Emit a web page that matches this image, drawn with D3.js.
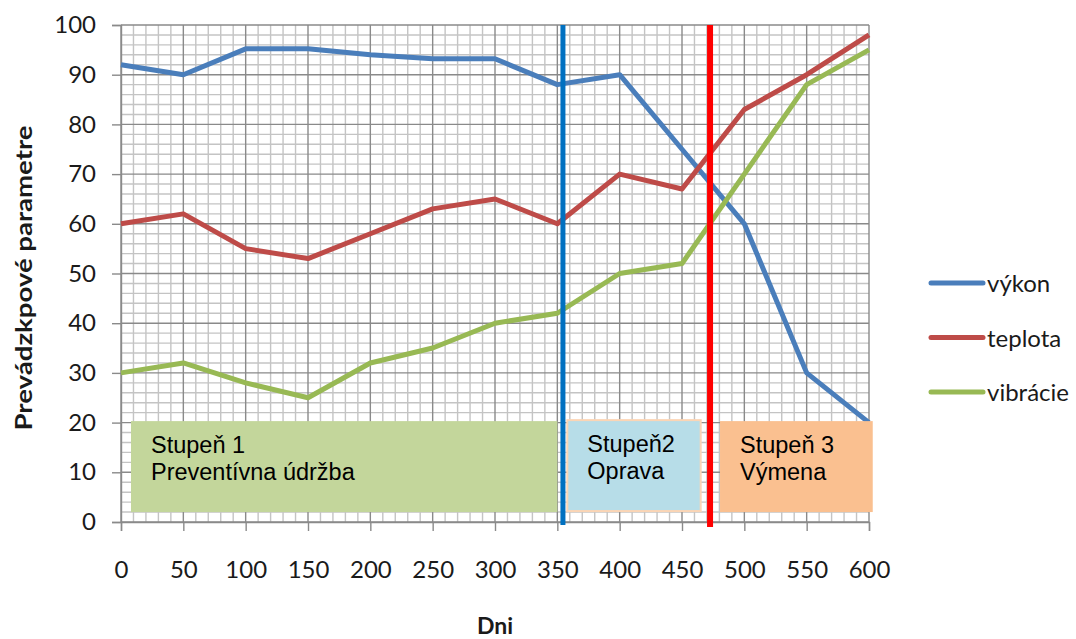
<!DOCTYPE html>
<html><head><meta charset="utf-8">
<script src="https://cdn.jsdelivr.net/npm/d3@7/dist/d3.min.js"></script>
<style>body{margin:0;background:#fff}svg{display:block}</style>
</head><body><svg id="c" width="1076" height="639"></svg>
<script>
const days = [0,50,100,150,200,250,300,350,400,450,500,550,600];
const vykon = [92,90,95.2,95.2,94,93.2,93.2,88,90,75,60,30,20];
const teplota = [60,62,55,53,58,63,65,60,70,67,83,90,98];
const vibracie = [30,32,28,25,32,35,40,42,50,52,70,88,95];
const seriesNames = ["výkon","teplota","vibrácie"];
const seriesColors = ["#4a7ebb","#be4b48","#98b954"];
const xTicks = [0,50,100,150,200,250,300,350,400,450,500,550,600];
const yTicks = [0,10,20,30,40,50,60,70,80,90,100];
const phaseLabels = [["Stupeň 1","Preventívna údržba"],["Stupeň2","Oprava"],["Stupeň 3","Výmena"]];
const phaseStart = [8,358,480.5];
const phaseEnd = [350,465,603];
const phaseLow = [2,2.2,2];
const phaseHigh = [20.3,20.5,20.3];
const phaseColors = ["#c3d69b","#b7dde8","#fac090"];
const markerDays = [354.5,472.5];
const markerColors = ["#0070c0","#ff0000"];

const svg = d3.select("#c");
const x = d3.scaleLinear().domain([0,600]).range([121,869]);
const y = d3.scaleLinear().domain([0,100]).range([522,25]);

const g = svg.append("g");
const minorX = d3.range(0,601,10), minorY = d3.range(0,101,2);
g.selectAll(".mx").data(minorX.filter(d=>d%50!==0)).join("line").attr("x1",d=>x(d)).attr("x2",d=>x(d)).attr("y1",y(0)).attr("y2",y(100)).attr("stroke","#c4c4c4").attr("stroke-width",1.4);
g.selectAll(".my").data(minorY.filter(d=>d%10!==0)).join("line").attr("y1",d=>y(d)).attr("y2",d=>y(d)).attr("x1",x(0)).attr("x2",x(600)).attr("stroke","#c4c4c4").attr("stroke-width",1.4);
g.selectAll(".Mx").data(minorX.filter(d=>d%50===0)).join("line").attr("x1",d=>x(d)).attr("x2",d=>x(d)).attr("y1",y(0)).attr("y2",y(100)).attr("stroke","#8a8a8a").attr("stroke-width",1.4);
g.selectAll(".My").data(minorY.filter(d=>d%10===0)).join("line").attr("y1",d=>y(d)).attr("y2",d=>y(d)).attr("x1",x(0)).attr("x2",x(600)).attr("stroke","#8a8a8a").attr("stroke-width",1.4);

const ya = d3.axisLeft(y).tickValues(yTicks).tickSize(9).tickPadding(16);
const yg = svg.append("g").attr("transform",`translate(${x(0)},0)`).call(ya);
const xa = d3.axisBottom(x).tickValues(xTicks).tickSize(9).tickPadding(30);
const xg = svg.append("g").attr("transform",`translate(0,${y(0)})`).call(xa);
[yg,xg].forEach(a=>{
  a.select(".domain").attr("stroke","#8a8a8a").attr("stroke-width",1.4);
  a.selectAll(".tick line").attr("stroke","#8a8a8a").attr("stroke-width",1.4);
  a.selectAll("text").attr("font-family","Lato, sans-serif").attr("font-size",24).attr("fill","#1a1a1a");
});

const data = [vykon,teplota,vibracie];
const line = d3.line().x((d,i)=>x(days[i])).y(d=>y(d));
svg.selectAll(".ser").data(data).join("path").attr("d",line).attr("fill","none")
  .attr("stroke",(d,i)=>seriesColors[i]).attr("stroke-width",5).attr("stroke-linejoin","round");

const pb = svg.selectAll(".pb").data(phaseLabels).join("g");
pb.append("rect").attr("x",(d,i)=>x(phaseStart[i])).attr("y",(d,i)=>y(phaseHigh[i]))
  .attr("width",(d,i)=>x(phaseEnd[i])-x(phaseStart[i])).attr("height",(d,i)=>y(phaseLow[i])-y(phaseHigh[i]))
  .attr("fill",(d,i)=>phaseColors[i]).attr("stroke",(d,i)=>i===1?"#fbd5b5":"none").attr("stroke-width",2);
pb.each(function(d,i){
  const t = d3.select(this).append("text").attr("font-family","'Liberation Sans', Arial, sans-serif").attr("font-size",23.5).attr("fill","#000");
  d.forEach((s,k)=>t.append("tspan").attr("x",x(phaseStart[i])+20).attr("y",y(phaseHigh[i])+32+k*27).text(s));
});

svg.selectAll(".mk").data(markerDays).join("line").attr("x1",d=>x(d)).attr("x2",d=>x(d))
  .attr("y1",y(100)).attr("y2",(d,i)=>y(0)+(i?5:3)).attr("stroke",(d,i)=>markerColors[i]).attr("stroke-width",(d,i)=>i?6:5);

const lg = svg.selectAll(".lg").data(seriesNames).join("g").attr("transform",(d,i)=>`translate(931,${283+i*54.5})`);
lg.append("line").attr("x1",0).attr("x2",52).attr("stroke",(d,i)=>seriesColors[i]).attr("stroke-width",5).attr("stroke-linecap","round");
lg.append("text").attr("x",56).attr("y",9).attr("font-family","Lato, sans-serif").attr("font-size",24).attr("fill","#1a1a1a").text(d=>d);

svg.append("text").attr("transform","translate(32,278) rotate(-90)").attr("text-anchor","middle")
  .attr("font-family","Lato, sans-serif").attr("font-weight","bold").attr("font-size",23)
  .attr("textLength",305).attr("lengthAdjust","spacingAndGlyphs").attr("fill","#1a1a1a").text("Prevádzkpové parametre");
svg.append("text").attr("x",495).attr("y",634).attr("text-anchor","middle")
  .attr("font-family","Lato, sans-serif").attr("font-weight","bold").attr("font-size",23).attr("fill","#1a1a1a").text("Dni");
</script></body></html>
